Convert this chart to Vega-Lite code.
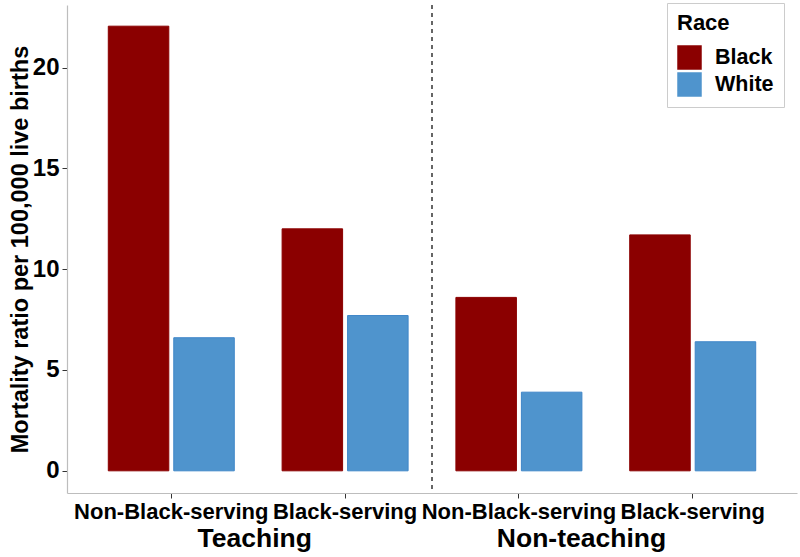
{
  "$schema": "https://vega.github.io/schema/vega-lite/v6.json",
  "width": 730,
  "height": 488,
  "autosize": {"type": "none"},
  "padding": {"left": 67, "top": 5, "right": 3, "bottom": 64},
  "background": "white",
  "config": {
    "view": {"stroke": null},
    "font": "Liberation Sans",
    "axis": {
      "domainColor": "#bdbdbd",
      "domainWidth": 1.2,
      "tickColor": "#333333",
      "tickSize": 5,
      "grid": false,
      "labelFont": "Liberation Sans",
      "labelFontWeight": "bold",
      "labelColor": "black",
      "labelLimit": 0,
      "titleFont": "Liberation Sans",
      "titleFontWeight": "bold",
      "titleColor": "black",
      "titleLimit": 0
    }
  },
  "datasets": {
    "bars": [
      {"setting": "Teaching", "serving": "Non-Black-serving", "cat": "Teaching|Non-Black-serving", "race": "Black", "value": 22.05},
      {"setting": "Teaching", "serving": "Non-Black-serving", "cat": "Teaching|Non-Black-serving", "race": "White", "value": 6.6},
      {"setting": "Teaching", "serving": "Black-serving", "cat": "Teaching|Black-serving", "race": "Black", "value": 12.0},
      {"setting": "Teaching", "serving": "Black-serving", "cat": "Teaching|Black-serving", "race": "White", "value": 7.7},
      {"setting": "Non-teaching", "serving": "Non-Black-serving", "cat": "Non-teaching|Non-Black-serving", "race": "Black", "value": 8.6},
      {"setting": "Non-teaching", "serving": "Non-Black-serving", "cat": "Non-teaching|Non-Black-serving", "race": "White", "value": 3.9},
      {"setting": "Non-teaching", "serving": "Black-serving", "cat": "Non-teaching|Black-serving", "race": "Black", "value": 11.7},
      {"setting": "Non-teaching", "serving": "Black-serving", "cat": "Non-teaching|Black-serving", "race": "White", "value": 6.4}
    ],
    "groups": [
      {"label": "Teaching", "xpos": 1.48},
      {"label": "Non-teaching", "xpos": 3.36}
    ],
    "divider": [
      {"cat": "Teaching|Black-serving"}
    ]
  },
  "layer": [
    {
      "layer": [
        {
          "data": {"name": "bars"},
          "mark": {"type": "bar", "strokeWidth": 1},
          "encoding": {
            "x": {
              "field": "cat",
              "type": "nominal",
              "sort": ["Teaching|Non-Black-serving", "Teaching|Black-serving", "Non-teaching|Non-Black-serving", "Non-teaching|Black-serving"],
              "scale": {"domain": ["Teaching|Non-Black-serving", "Teaching|Black-serving", "Non-teaching|Non-Black-serving", "Non-teaching|Black-serving"], "paddingInner": 0, "paddingOuter": 0.1},
              "axis": {
                "title": null,
                "labelExpr": "split(datum.label, '|')[1]",
                "labelAngle": 0,
                "labelFontSize": 22,
                "labelPadding": 3,
                "labelOverlap": false
              }
            },
            "xOffset": {
              "field": "race",
              "type": "nominal",
              "scale": {"paddingInner": 0.076, "paddingOuter": 0.365}
            },
            "y": {
              "field": "value",
              "type": "quantitative",
              "scale": {"domain": [-1.1, 23.1], "nice": false, "zero": false},
              "axis": {
                "title": "Mortality ratio per 100,000 live births",
                "values": [0, 5, 10, 15, 20],
                "labelFontSize": 24,
                "labelPadding": 3,
                "titleFontSize": 23.5,
                "titlePadding": 0
              }
            },
            "y2": {"datum": 0},
            "fill": {
              "field": "race",
              "type": "nominal",
              "scale": {"domain": ["Black", "White"], "range": ["#8B0000", "#4F94CD"]},
              "legend": {
                "title": "Race",
                "orient": "none",
                "legendX": 600,
                "legendY": -2,
                "padding": 10,
                "strokeColor": "#cccccc",
                "fillColor": "white",
                "titleFont": "Liberation Sans",
                "titleFontSize": 22,
                "titleFontWeight": "bold",
                "titleColor": "black",
                "titlePadding": 10,
                "labelFont": "Liberation Sans",
                "labelFontSize": 21.5,
                "labelFontWeight": "bold",
                "labelColor": "black",
                "labelOffset": 13,
                "symbolType": "square",
                "symbolSize": 600,
                "symbolStrokeWidth": 0,
                "symbolOpacity": 1,
                "rowPadding": 2
              }
            },
            "stroke": {
              "field": "race",
              "type": "nominal",
              "scale": {"domain": ["Black", "White"], "range": ["#8B0000", "#3f86c8"]},
              "legend": null
            }
          }
        },
        {
          "data": {"name": "divider"},
          "mark": {"type": "rule", "color": "black", "strokeDash": [4, 4], "strokeWidth": 1.2},
          "encoding": {
            "x": {
              "field": "cat",
              "type": "nominal",
              "bandPosition": 1
            }
          }
        }
      ]
    },
    {
      "data": {"name": "groups"},
      "mark": {"type": "text", "fontSize": 26.5, "fontWeight": "bold", "font": "Liberation Sans", "color": "black", "baseline": "middle", "align": "center"},
      "encoding": {
        "x": {
          "field": "xpos",
          "type": "quantitative",
          "scale": {"domain": [0.4, 4.6], "nice": false, "zero": false},
          "axis": null
        },
        "y": {"datum": -3.4, "type": "quantitative"},
        "text": {"field": "label", "type": "nominal"}
      }
    }
  ],
  "resolve": {"scale": {"x": "independent"}, "axis": {"x": "independent"}}
}
